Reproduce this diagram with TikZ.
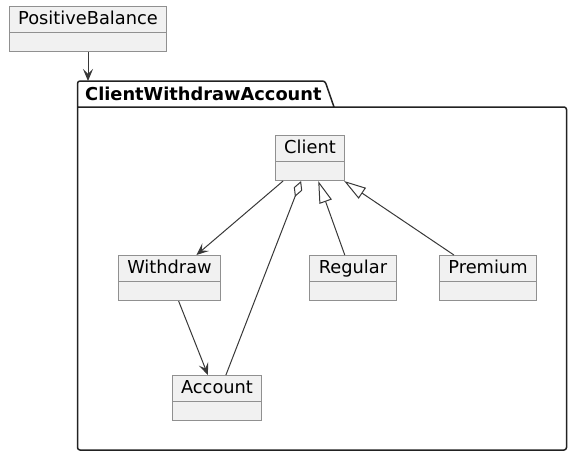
\documentclass[tikz,border=0pt]{standalone}
\usepackage{fontspec}
\setmainfont{DejaVu Sans}
\usetikzlibrary{arrows.meta}
\definecolor{boxfill}{HTML}{F1F1F1}
\definecolor{boxline}{HTML}{909090}
\definecolor{linkcol}{HTML}{383838}
\definecolor{pkgcol}{HTML}{222222}

\begin{document}
\begin{tikzpicture}[x=1pt, y=-1pt,
    every node/.style={font=\fontsize{17.8}{21}\selectfont},
    classbox/.style={rectangle, draw=boxline, line width=1pt, fill=boxfill, anchor=north,
        inner xsep=9pt, inner ysep=0pt, text height=18pt, text depth=27pt,
        path picture={\draw[boxline, line width=1pt] ([yshift=-26pt]path picture bounding box.north west) -- ([yshift=-26pt]path picture bounding box.north east);}},
    pkgline/.style={draw=pkgcol, line width=1.5pt, rounded corners=2.5pt},
    link/.style={draw=linkcol, line width=1pt},
    assoc/.style={link, -{Stealth[length=12pt, width=10pt, inset=5pt]}},
    extends/.style={link, -{Triangle[open, length=22pt, width=13pt, fill=white]}},
    aggr/.style={link, {Diamond[open, length=17pt, width=9pt, fill=white]}-},
]
\useasboundingbox (0,0) rectangle (581,461);
\node[classbox] (posbal) at (88,6) {PositiveBalance};
% package frame
\draw[pkgline] (77.5,107) -- (566.5,107) -- (566.5,450) -- (77.5,450) -- (77.5,81) -- (325,81) -- (334,107);
\node[anchor=base west, inner sep=0pt, font=\fontsize{17.8}{21}\selectfont\bfseries] (pkgname) at (85,100) {ClientWithdrawAccount};
\coordinate (pkgtop) at (77.5,81);
% classes
\node[classbox] (client) at (310,135) {Client};
\node[classbox] (withdraw) at (169.5,255) {Withdraw};
\node[classbox] (regular) at (353,255) {Regular};
\node[classbox] (premium) at (488,255) {Premium};
\node[classbox] (account) at (217,375) {Account};
% relations
\draw[assoc] (posbal) -- (posbal |- pkgtop);
\draw[assoc] (client) -- (withdraw);
\draw[aggr] (client) -- (account);
\draw[extends] (regular) -- (client);
\draw[extends] (premium) -- (client);
\draw[assoc] (withdraw) -- (account);
\end{tikzpicture}
\end{document}
